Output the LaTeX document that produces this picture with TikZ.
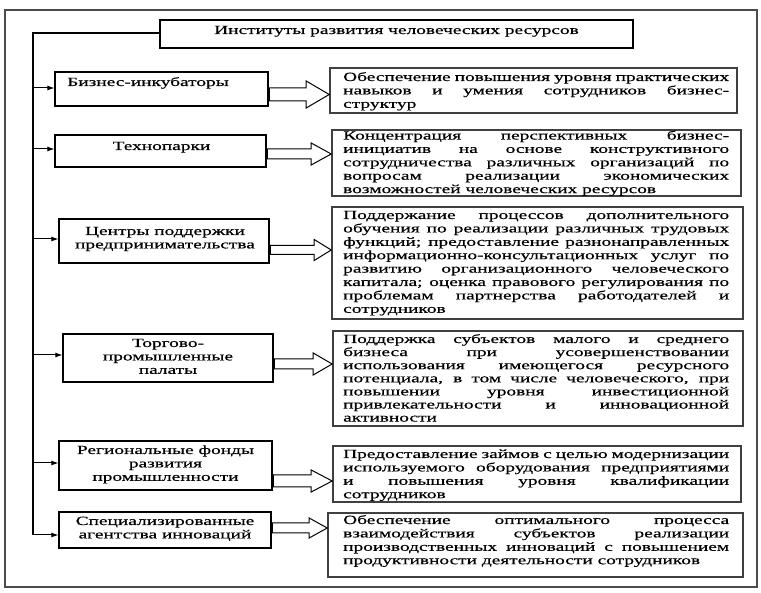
\documentclass[tikz,border=0pt]{standalone}
\usepackage{fontspec}
\setmainfont{Liberation Serif}[FakeStretch=1.55,FakeBold=0.5]
\usetikzlibrary{arrows.meta,calc,fit}
\newcommand\jl[1]{\hbox to 386pt{#1}}
\newcommand\lastl[1]{\hbox{#1}}
\newcommand\rtext[1]{\parbox[t]{386pt}{#1}}
\newcommand\ctext[1]{\parbox[t]{210pt}{\centering #1}}
\newcommand\blockarr[6]{%
  \draw[blk] let \p1=(#1.east |- 0,#3), \p2=(#2.west |- 0,#3) in
    (\x1,\y1+#4pt) -- (\x2-#6pt,\y1+#4pt) -- (\x2-#6pt,\y1+#5pt) -- (\x2,\y1)
    -- (\x2-#6pt,\y1-#5pt) -- (\x2-#6pt,\y1-#4pt) -- (\x1,\y1-#4pt) -- cycle;
  \draw[line width=2.6pt] let \p1=(#1.east |- 0,#3) in
    (\x1,\y1+#4pt) -- (\x1,\y1-#4pt);}
\begin{document}
\begin{tikzpicture}[x=1pt,y=-1pt,
  box/.style={draw=black, line width=1.2pt, inner sep=0pt},
  rbox/.style={draw=black!75, line width=1.6pt, inner sep=0pt},
  frame/.style={draw=black!70, line width=1.2pt},
  txt/.style={inner sep=0pt, font=\fontsize{12.5pt}{13.4pt}\selectfont},
  tighttxt/.style={inner sep=0pt, font=\fontsize{12.5pt}{13.1pt}\selectfont},
  conn/.style={line width=1pt, -{Latex[length=7pt,width=5pt]}},
  trunk/.style={line width=1.1pt},
  blk/.style={draw=black, line width=1pt, fill=white, line join=miter}]
\useasboundingbox (0,0) rectangle (761,593);
\fill[white] (0,0) rectangle (761,593);
\draw[frame] (5,10) rectangle (757,587);

% title
\node[box, fit={(160,20) (633,48)}] (T) {};
\node[txt, anchor=base] (Tt) at (396.5,34) {Институты развития человеческих ресурсов};

% left boxes
\node[box, fit={(55,72) (268,106)}] (L1) {};
\node[txt, anchor=base] (L1t) at (148,86) {Бизнес-инкубаторы};
\node[box, fit={(55,135) (266,167)}] (L2) {};
\node[txt, anchor=base] (L2t) at (161.5,150) {Технопарки};
\node[box, fit={(59,219) (269,263)}] (L3) {};
\node[txt, anchor=base] (L3t) at (165,235) {\ctext{Центры поддержки\\предпринимательства}};
\node[box, fit={(63,334) (273,382)}] (L4) {};
\node[txt, anchor=base] (L4t) at (168,347) {\ctext{Торгово-\\промышленные\\палаты}};
\node[box, fit={(59,441) (272,490)}] (L5) {};
\node[txt, anchor=base] (L5t) at (165.5,454) {\ctext{Региональные фонды\\развития\\промышленности}};
\node[box, fit={(59,512) (271,548)}] (L6) {};
\node[txt, anchor=base] (L6t) at (165,525) {\ctext{Специализированные\\агентства инноваций}};

% right boxes
\node[rbox, fit={(330,68) (737,113)}] (R1) {};
\node[txt, anchor=base west] (R1t) at (343,81) {\rtext{%
\jl{Обеспечение повышения уровня практических}
\jl{навыков и умения сотрудников бизнес-}
\lastl{структур}}};
\node[rbox, fit={(332,130) (741,196)}] (R2) {};
\node[txt, anchor=base west] (R2t) at (343,139.5) {\rtext{%
\jl{Концентрация перспективных бизнес-}
\jl{инициатив на основе конструктивного}
\jl{сотрудничества различных организаций по}
\jl{вопросам реализации экономических}
\lastl{возможностей человеческих ресурсов}}};
\node[rbox, fit={(332,207) (743,319)}] (R3) {};
\node[txt, anchor=base west] (R3t) at (343,219) {\rtext{%
\jl{Поддержание процессов дополнительного}
\jl{обучения по реализации различных трудовых}
\jl{функций; предоставление разнонаправленных}
\jl{информационно-консультационных услуг по}
\jl{развитию организационного человеческого}
\jl{капитала; оценка правового регулирования по}
\jl{проблемам партнерства работодателей и}
\lastl{сотрудников}}};
\node[rbox, fit={(333,331) (743,426)}] (R4) {};
\node[tighttxt, anchor=base west] (R4t) at (343,343) {\rtext{%
\jl{Поддержка субъектов малого и среднего}
\jl{бизнеса при усовершенствовании}
\jl{использования имеющегося ресурсного}
\jl{потенциала, в том числе человеческого, при}
\jl{повышении уровня инвестиционной}
\jl{привлекательности и инновационной}
\lastl{активности}}};
\node[rbox, fit={(333,446) (741,502)}] (R5) {};
\node[txt, anchor=base west] (R5t) at (343,458) {\rtext{%
\jl{Предоставление займов с целью модернизации}
\jl{используемого оборудования предприятиями}
\jl{и повышения уровня квалификации}
\lastl{сотрудников}}};
\node[rbox, fit={(328,513) (743,577)}] (R6) {};
\node[txt, anchor=base west] (R6t) at (343,524) {\rtext{%
\jl{Обеспечение оптимального процесса}
\jl{взаимодействия субъектов реализации}
\jl{производственных инноваций с повышением}
\lastl{продуктивности деятельности сотрудников}}};

% trunk and connectors
\coordinate (t0) at (33,33);
\coordinate (t1) at (33,88);
\coordinate (t2) at (33,149);
\coordinate (t3) at (33,239);
\coordinate (t4) at (33,355);
\coordinate (t5) at (33,463);
\coordinate (t6) at (33,535);
\draw[trunk] (T.west |- t0) -- (t0) -- (t6);
\draw[conn] (t1) -- (t1 -| L1.west);
\draw[conn] (t2) -- (t2 -| L2.west);
\draw[conn] (t3) -- (t3 -| L3.west);
\draw[conn] (t4) -- (t4 -| L4.west);
\draw[conn] (t5) -- (t5 -| L5.west);
\draw[conn] (t6) -- (t6 -| L6.west);

% block arrows
\blockarr{L1}{R1}{94.5}{6.5}{13.5}{23}
\blockarr{L2}{R2}{154}{5}{11}{20}
\blockarr{L3}{R3}{250}{4.5}{10.5}{17}
\blockarr{L4}{R4}{364}{5}{11}{19}
\blockarr{L5}{R5}{481}{6}{11}{21}
\blockarr{L6}{R6}{528}{5}{10}{18}
\end{tikzpicture}
\end{document}
